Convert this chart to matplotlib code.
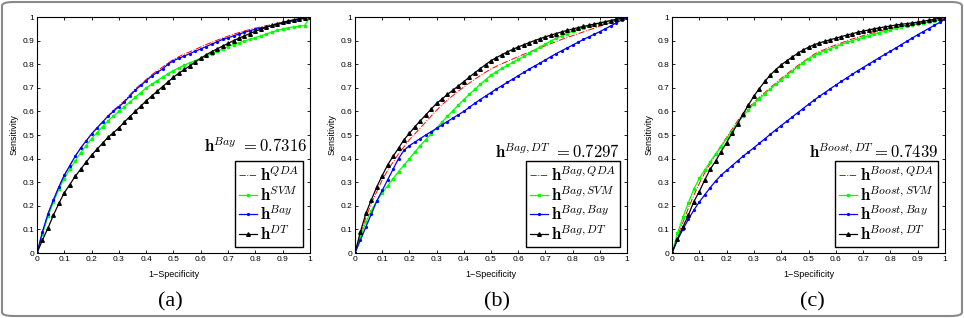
# ROC curves of the bagging / boosting ensembles, three panels side by side

import numpy as np
import matplotlib
matplotlib.use('Agg')
import matplotlib.pyplot as plt
from matplotlib.patches import FancyBboxPatch

plt.rcParams['mathtext.fontset'] = 'cm'
plt.rcParams['font.family'] = ['Liberation Sans', 'DejaVu Sans']

# 1-specificity grid (one marker every 0.02)
fpr = np.linspace(0, 1, 51)

# a. single classifiers
a_qda = [0, 0.09, 0.165, 0.225, 0.28, 0.33, 0.37, 0.41, 0.445, 0.475,
         0.505, 0.53, 0.555, 0.58, 0.605, 0.625, 0.645, 0.67, 0.695, 0.715,
         0.735, 0.755, 0.772, 0.788, 0.805, 0.82, 0.832, 0.843, 0.853, 0.863,
         0.873, 0.883, 0.893, 0.902, 0.911, 0.919, 0.927, 0.934, 0.941, 0.947,
         0.953, 0.958, 0.963, 0.968, 0.973, 0.978, 0.983, 0.988, 0.992, 0.996, 1.0]
a_svm = [0, 0.08, 0.155, 0.215, 0.27, 0.315, 0.355, 0.39, 0.425, 0.455,
         0.485, 0.51, 0.535, 0.56, 0.58, 0.60, 0.62, 0.64, 0.66, 0.68,
         0.70, 0.715, 0.73, 0.745, 0.76, 0.773, 0.785, 0.796, 0.806, 0.815,
         0.825, 0.835, 0.845, 0.855, 0.864, 0.875, 0.883, 0.891, 0.899, 0.906,
         0.913, 0.92, 0.928, 0.936, 0.943, 0.949, 0.954, 0.958, 0.961, 0.963, 1.0]
a_bay = [0, 0.09, 0.165, 0.225, 0.28, 0.33, 0.37, 0.41, 0.445, 0.475,
         0.505, 0.53, 0.555, 0.58, 0.60, 0.62, 0.64, 0.665, 0.69, 0.71,
         0.73, 0.75, 0.765, 0.78, 0.80, 0.815, 0.825, 0.835, 0.845, 0.855,
         0.865, 0.875, 0.885, 0.895, 0.905, 0.912, 0.92, 0.928, 0.935, 0.942,
         0.948, 0.953, 0.958, 0.963, 0.968, 0.974, 0.979, 0.984, 0.989, 0.994, 1.0]
a_dt = [0, 0.055, 0.105, 0.16, 0.21, 0.255, 0.29, 0.325, 0.355, 0.385,
        0.415, 0.44, 0.465, 0.49, 0.51, 0.53, 0.555, 0.578, 0.60, 0.622,
        0.645, 0.665, 0.685, 0.705, 0.725, 0.745, 0.762, 0.778, 0.793, 0.81,
        0.825, 0.84, 0.853, 0.865, 0.877, 0.888, 0.90, 0.91, 0.92, 0.93,
        0.94, 0.948, 0.956, 0.964, 0.971, 0.977, 0.983, 0.988, 0.993, 0.997, 1.0]

# b. bagging
b_qda = [0, 0.08, 0.15, 0.21, 0.26, 0.31, 0.35, 0.385, 0.42, 0.45,
         0.48, 0.505, 0.53, 0.555, 0.58, 0.605, 0.628, 0.648, 0.667, 0.686,
         0.703, 0.72, 0.736, 0.751, 0.766, 0.78, 0.791, 0.802, 0.812, 0.822,
         0.832, 0.842, 0.851, 0.86, 0.869, 0.878, 0.887, 0.896, 0.905, 0.913,
         0.921, 0.929, 0.937, 0.945, 0.953, 0.961, 0.969, 0.977, 0.985, 0.993, 1.0]
b_svm = [0, 0.07, 0.13, 0.18, 0.22, 0.256, 0.285, 0.315, 0.345, 0.372,
         0.40, 0.428, 0.455, 0.48, 0.505, 0.53, 0.555, 0.58, 0.603, 0.627,
         0.65, 0.672, 0.693, 0.714, 0.734, 0.754, 0.768, 0.782, 0.795, 0.808,
         0.82, 0.833, 0.846, 0.86, 0.873, 0.886, 0.898, 0.91, 0.92, 0.93,
         0.94, 0.948, 0.955, 0.962, 0.968, 0.974, 0.979, 0.984, 0.989, 0.995, 1.0]
b_bay = [0, 0.055, 0.11, 0.165, 0.22, 0.265, 0.31, 0.355, 0.40, 0.435,
         0.455, 0.47, 0.485, 0.50, 0.514, 0.528, 0.543, 0.557, 0.572, 0.586,
         0.60, 0.617, 0.634, 0.65, 0.665, 0.68, 0.695, 0.709, 0.723, 0.737,
         0.751, 0.765, 0.779, 0.792, 0.805, 0.818, 0.832, 0.845, 0.857, 0.869,
         0.881, 0.893, 0.905, 0.916, 0.927, 0.938, 0.95, 0.962, 0.975, 0.987, 1.0]
b_dt = [0, 0.09, 0.168, 0.225, 0.28, 0.328, 0.373, 0.41, 0.444, 0.48,
        0.507, 0.535, 0.56, 0.585, 0.61, 0.634, 0.653, 0.672, 0.69, 0.708,
        0.726, 0.745, 0.763, 0.781, 0.798, 0.815, 0.828, 0.84, 0.852, 0.863,
        0.873, 0.882, 0.891, 0.90, 0.908, 0.916, 0.923, 0.93, 0.937, 0.943,
        0.949, 0.955, 0.96, 0.965, 0.97, 0.975, 0.98, 0.985, 0.99, 0.995, 1.0]

# c. boosting
c_qda = [0, 0.07, 0.13, 0.19, 0.245, 0.295, 0.34, 0.38, 0.42, 0.455,
         0.49, 0.525, 0.56, 0.59, 0.615, 0.638, 0.66, 0.68, 0.70, 0.72,
         0.74, 0.758, 0.776, 0.794, 0.81, 0.826, 0.842, 0.853, 0.863, 0.873,
         0.882, 0.89, 0.899, 0.907, 0.914, 0.921, 0.928, 0.934, 0.94, 0.946,
         0.951, 0.956, 0.961, 0.965, 0.969, 0.973, 0.977, 0.981, 0.985, 0.99, 1.0]
c_svm = [0, 0.083, 0.151, 0.213, 0.271, 0.316, 0.352, 0.387, 0.42, 0.45,
         0.486, 0.518, 0.55, 0.58, 0.606, 0.632, 0.654, 0.675, 0.695, 0.714,
         0.733, 0.752, 0.77, 0.789, 0.807, 0.823, 0.836, 0.847, 0.857, 0.866,
         0.875, 0.884, 0.892, 0.90, 0.907, 0.914, 0.921, 0.928, 0.934, 0.94,
         0.946, 0.952, 0.957, 0.962, 0.966, 0.97, 0.974, 0.978, 0.982, 0.986, 0.99]
c_bay = [0, 0.055, 0.10, 0.143, 0.182, 0.216, 0.247, 0.277, 0.305, 0.33,
         0.35, 0.37, 0.39, 0.41, 0.428, 0.446, 0.465, 0.484, 0.503, 0.522,
         0.54, 0.558, 0.576, 0.594, 0.612, 0.63, 0.647, 0.664, 0.68, 0.696,
         0.712, 0.727, 0.742, 0.757, 0.772, 0.786, 0.8, 0.814, 0.828, 0.842,
         0.855, 0.869, 0.883, 0.897, 0.911, 0.925, 0.938, 0.951, 0.964, 0.977, 0.99]
c_dt = [0, 0.06, 0.11, 0.16, 0.218, 0.26, 0.31, 0.355, 0.39, 0.43,
        0.468, 0.508, 0.547, 0.589, 0.627, 0.665, 0.697, 0.727, 0.754, 0.777,
        0.797, 0.814, 0.83, 0.846, 0.86, 0.872, 0.882, 0.89, 0.897, 0.904,
        0.91, 0.917, 0.923, 0.929, 0.935, 0.94, 0.945, 0.95, 0.954, 0.958,
        0.962, 0.966, 0.969, 0.972, 0.975, 0.978, 0.982, 0.986, 0.99, 0.995, 1.0]

panels = [
    (a_qda, a_svm, a_bay, a_dt),
    (b_qda, b_svm, b_bay, b_dt),
    (c_qda, c_svm, c_bay, c_dt),
]
legend_names = [
    [r'$\mathbf{h}^{QDA}$', r'$\mathbf{h}^{SVM}$', r'$\mathbf{h}^{Bay}$', r'$\mathbf{h}^{DT}$'],
    [r'$\mathbf{h}^{Bag,QDA}$', r'$\mathbf{h}^{Bag,SVM}$', r'$\mathbf{h}^{Bag,Bay}$', r'$\mathbf{h}^{Bag,DT}$'],
    [r'$\mathbf{h}^{Boost,QDA}$', r'$\mathbf{h}^{Boost,SVM}$', r'$\mathbf{h}^{Boost,Bay}$', r'$\mathbf{h}^{Boost,DT}$'],
]
best_text = [r'$\mathbf{h}^{Bay}\ = 0.7316$',
             r'$\mathbf{h}^{Bag,DT}\ = 0.7297$',
             r'$\mathbf{h}^{Boost,DT}= 0.7439$']
captions = ['(a)', '(b)', '(c)']

# layout (figure pixels -> fractions)
W, H = 964, 318
lefts = [37, 355, 672]
widths = [273, 272, 273]
text_y = [0.453, 0.428, 0.428]
text_x = [0.989, 0.974, 0.974]
cap_x = [170, 497, 812]

fig = plt.figure(figsize=(W / 100, H / 100), dpi=100)

# rounded gray frame around everything
frame = FancyBboxPatch((2 / W, 2 / H), (W - 4) / W, (H - 4) / H,
                       boxstyle='round,pad=0,rounding_size=0.012',
                       transform=fig.transFigure, facecolor='none',
                       edgecolor='#8a8a8a', linewidth=1.5, zorder=0)
fig.patches.append(frame)

for k in range(3):
    ax = fig.add_axes([lefts[k] / W, (H - 253) / H, widths[k] / W, 236 / H])
    qda, svm, bay, dt = panels[k]
    ax.plot(fpr, qda, color='red', linestyle='-.', linewidth=0.7, label=legend_names[k][0])
    ax.plot(fpr, svm, color='#00ff00', linestyle='-', linewidth=0.9, marker='s',
            markersize=1.9, label=legend_names[k][1])
    ax.plot(fpr, bay, color='blue', linestyle='-', linewidth=0.9, marker='.',
            markersize=2.6, label=legend_names[k][2])
    ax.plot(fpr, dt, color='black', linestyle='-', linewidth=0.9, marker='^',
            markersize=2.6, label=legend_names[k][3])

    ax.set_xlim(0, 1)
    ax.set_ylim(0, 1)
    ax.set_xticks(np.arange(0, 1.01, 0.1))
    ax.set_yticks(np.arange(0, 1.01, 0.1))
    ax.set_xticklabels(['0', '0.1', '0.2', '0.3', '0.4', '0.5', '0.6', '0.7', '0.8', '0.9', '1'])
    ax.set_yticklabels(['0', '0.1', '0.2', '0.3', '0.4', '0.5', '0.6', '0.7', '0.8', '0.9', '1'])
    ax.tick_params(direction='in', length=2.5, width=0.6, labelsize=6,
                   top=True, right=True, pad=2)
    for s in ax.spines.values():
        s.set_linewidth(0.8)
    ax.set_xlabel('1\u2212Specificity', fontsize=6.5, labelpad=5)
    ax.set_ylabel('Sensitivity', fontsize=6.5, labelpad=3)

    ax.text(text_x[k], text_y[k], best_text[k], transform=ax.transAxes,
            ha='right', va='center', fontsize=12)

    leg = ax.legend(loc='lower right', bbox_to_anchor=(0.975, 0.025),
                    borderaxespad=0, fontsize=12, fancybox=False,
                    handlelength=1.1, handletextpad=0.15, labelspacing=0.05,
                    borderpad=0.25, framealpha=1)
    leg.get_frame().set_edgecolor('black')
    leg.get_frame().set_linewidth(1.0)

    fig.text(cap_x[k] / W, (H - 302) / H, captions[k], ha='center', va='center',
             fontsize=16, family='Liberation Serif')

fig.savefig('out.png', dpi=100)
